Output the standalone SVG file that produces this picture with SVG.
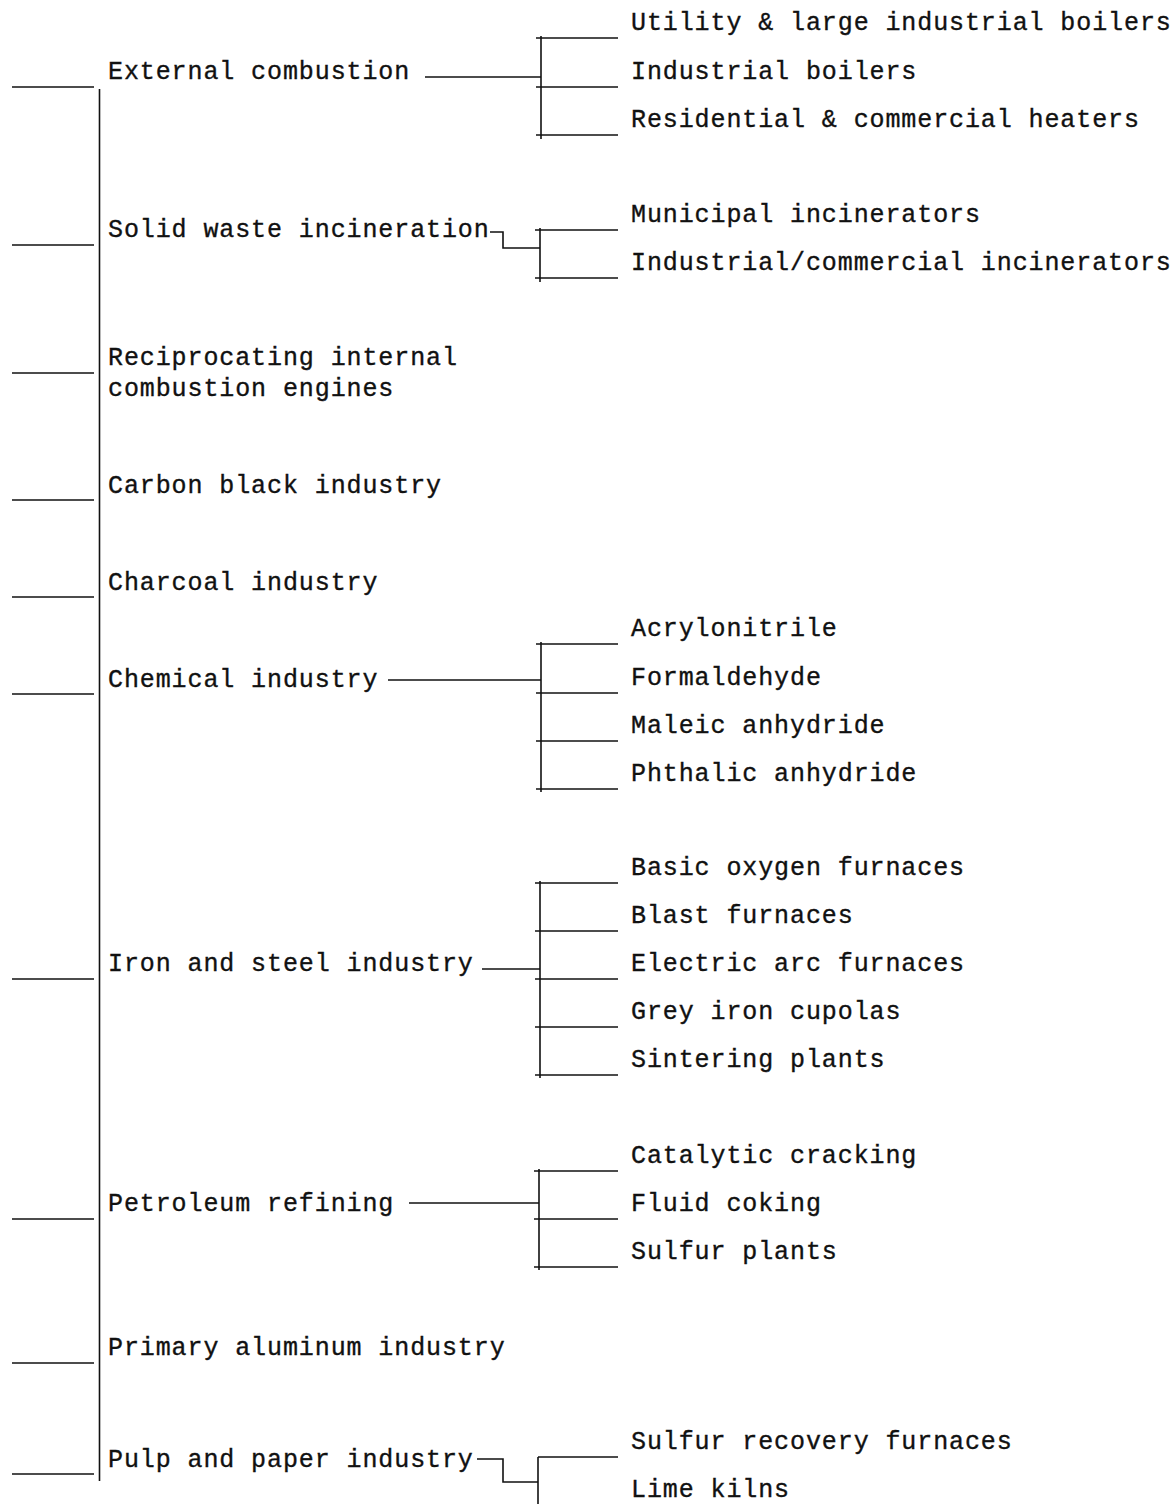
<svg xmlns="http://www.w3.org/2000/svg" width="1175" height="1504" viewBox="0 0 1175 1504">
<style>
text { font-family: "Liberation Mono", "Courier New", monospace; font-size: 25px; letter-spacing: 0.9px; fill: #111; stroke: #111; stroke-width: 0.35; }
.ln { stroke: #111; stroke-width: 1.6; fill: none; }
</style>
<rect width="1175" height="1504" fill="#fff"/>
<g id="connectors" class="ln">
  <!-- main spine -->
  <line x1="99.5" y1="89" x2="99.5" y2="1481"/>
  <!-- left stubs -->
  <line x1="12" y1="87" x2="94" y2="87"/>
  <line x1="12" y1="245" x2="94" y2="245"/>
  <line x1="12" y1="373" x2="94" y2="373"/>
  <line x1="12" y1="500" x2="94" y2="500"/>
  <line x1="12" y1="597" x2="94" y2="597"/>
  <line x1="12" y1="694" x2="94" y2="694"/>
  <line x1="12" y1="979" x2="94" y2="979"/>
  <line x1="12" y1="1219" x2="94" y2="1219"/>
  <line x1="12" y1="1363" x2="94" y2="1363"/>
  <line x1="12" y1="1474" x2="94" y2="1474"/>
  <!-- external combustion branch -->
  <line x1="425" y1="77" x2="541" y2="77"/>
  <line x1="541" y1="36" x2="541" y2="139"/>
  <line x1="536" y1="38" x2="618" y2="38"/>
  <line x1="536" y1="87" x2="618" y2="87"/>
  <line x1="536" y1="135" x2="618" y2="135"/>
  <!-- solid waste branch -->
  <path d="M490,232 H503 V248 H540"/>
  <line x1="540" y1="228" x2="540" y2="282"/>
  <line x1="535" y1="230" x2="618" y2="230"/>
  <line x1="535" y1="278" x2="618" y2="278"/>
  <!-- chemical branch -->
  <line x1="388" y1="680" x2="541" y2="680"/>
  <line x1="541" y1="642" x2="541" y2="792"/>
  <line x1="536" y1="644" x2="618" y2="644"/>
  <line x1="536" y1="693" x2="618" y2="693"/>
  <line x1="536" y1="741" x2="618" y2="741"/>
  <line x1="536" y1="789" x2="618" y2="789"/>
  <!-- iron and steel branch -->
  <line x1="482" y1="969" x2="540" y2="969"/>
  <line x1="540" y1="881" x2="540" y2="1078"/>
  <line x1="535" y1="883" x2="618" y2="883"/>
  <line x1="535" y1="931" x2="618" y2="931"/>
  <line x1="535" y1="979" x2="618" y2="979"/>
  <line x1="535" y1="1027" x2="618" y2="1027"/>
  <line x1="535" y1="1075" x2="618" y2="1075"/>
  <!-- petroleum branch -->
  <line x1="409" y1="1203" x2="539" y2="1203"/>
  <line x1="539" y1="1169" x2="539" y2="1270"/>
  <line x1="534" y1="1171" x2="618" y2="1171"/>
  <line x1="534" y1="1219" x2="618" y2="1219"/>
  <line x1="534" y1="1267" x2="618" y2="1267"/>
  <!-- pulp and paper branch -->
  <path d="M477,1459 H503 V1482 H538"/>
  <line x1="538" y1="1457" x2="538" y2="1504"/>
  <line x1="538" y1="1457" x2="618" y2="1457"/>
</g>
<g id="external-combustion">
  <text x="108" y="79">External combustion</text>
</g>
<g id="utility-boilers"><text x="631" y="30">Utility &amp; large industrial boilers</text></g>
<g id="industrial-boilers"><text x="631" y="79">Industrial boilers</text></g>
<g id="residential-heaters"><text x="631" y="127">Residential &amp; commercial heaters</text></g>
<g id="solid-waste">
  <text x="108" y="237">Solid waste incineration</text>
</g>
<g id="municipal-incinerators"><text x="631" y="222">Municipal incinerators</text></g>
<g id="industrial-incinerators"><text x="631" y="270">Industrial/commercial incinerators</text></g>
<g id="reciprocating">
  <text x="108" y="365">Reciprocating internal</text>
  <text x="108" y="396">combustion engines</text>
</g>
<g id="carbon-black"><text x="108" y="493">Carbon black industry</text></g>
<g id="charcoal"><text x="108" y="590">Charcoal industry</text></g>
<g id="chemical"><text x="108" y="687">Chemical industry</text></g>
<g id="acrylonitrile"><text x="631" y="636">Acrylonitrile</text></g>
<g id="formaldehyde"><text x="631" y="685">Formaldehyde</text></g>
<g id="maleic"><text x="631" y="733">Maleic anhydride</text></g>
<g id="phthalic"><text x="631" y="781">Phthalic anhydride</text></g>
<g id="iron-steel"><text x="108" y="971">Iron and steel industry</text></g>
<g id="basic-oxygen"><text x="631" y="875">Basic oxygen furnaces</text></g>
<g id="blast"><text x="631" y="923">Blast furnaces</text></g>
<g id="electric-arc"><text x="631" y="971">Electric arc furnaces</text></g>
<g id="grey-iron"><text x="631" y="1019">Grey iron cupolas</text></g>
<g id="sintering"><text x="631" y="1067">Sintering plants</text></g>
<g id="petroleum"><text x="108" y="1211">Petroleum refining</text></g>
<g id="catalytic"><text x="631" y="1163">Catalytic cracking</text></g>
<g id="fluid-coking"><text x="631" y="1211">Fluid coking</text></g>
<g id="sulfur-plants"><text x="631" y="1259">Sulfur plants</text></g>
<g id="aluminum"><text x="108" y="1355">Primary aluminum industry</text></g>
<g id="pulp-paper"><text x="108" y="1467">Pulp and paper industry</text></g>
<g id="sulfur-recovery"><text x="631" y="1449">Sulfur recovery furnaces</text></g>
<g id="lime-kilns"><text x="631" y="1497">Lime kilns</text></g>
</svg>
